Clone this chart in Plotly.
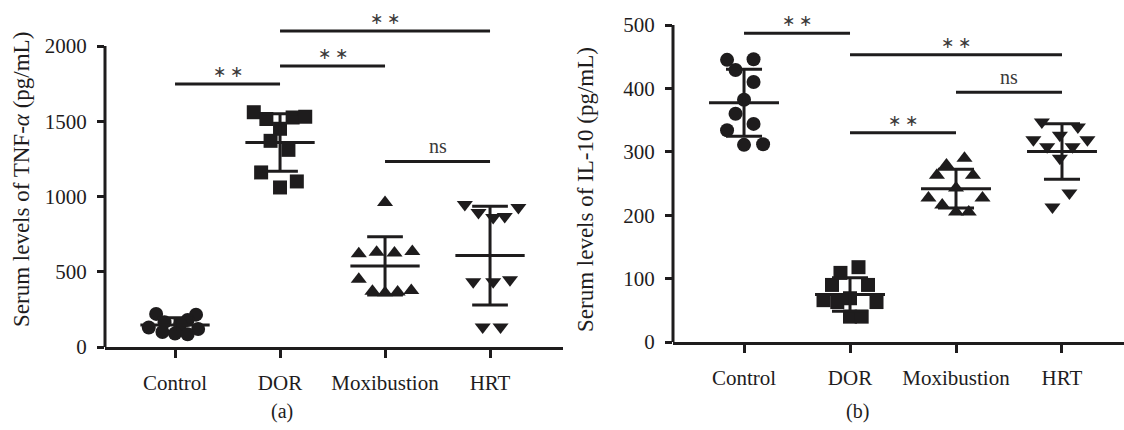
import plotly.graph_objects as go
import numpy as np

# ---------------- data ----------------
categories = ["Control", "DOR", "Moxibustion", "HRT"]

# Panel (a): serum TNF-alpha (pg/mL)
tnf_control = [220, 215, 180, 165, 150, 130, 120, 100, 90, 85]
tnf_dor = [1560, 1515, 1525, 1530, 1450, 1370, 1310, 1160, 1100, 1060]
tnf_mox = [960, 620, 630, 625, 635, 450, 370, 360, 365, 375]
tnf_hrt = [947, 893, 860, 867, 927, 433, 433, 447, 133, 133]

# Panel (b): serum IL-10 (pg/mL)
il10_control = [445, 446, 429, 410, 382, 360, 344, 334, 311, 312]
il10_dor = [118, 109, 90, 90, 66, 63, 69, 63, 40, 40]
il10_mox = [290, 279, 263, 263, 243, 227, 227, 216, 205, 205]
il10_hrt = [347, 339, 326, 319, 319, 308, 308, 290, 235, 213]

y_ticks_a = [0, 500, 1000, 1500, 2000]
y_ticks_b = [0, 100, 200, 300, 400, 500]

# significance comparisons: (group from, group to, label)
sig_a = [(0, 1, "∗ ∗"), (1, 2, "∗ ∗"), (1, 3, "∗ ∗"), (2, 3, "ns")]
sig_b = [(0, 1, "∗ ∗"), (1, 3, "∗ ∗"), (2, 3, "ns"), (1, 2, "∗ ∗")]

# ---------------- layout helpers (horizontal scatter of points, bracket heights) ----------------
jit_a = [
    [-0.18, 0.20, 0.12, -0.10, 0.05, -0.25, 0.22, -0.12, 0.0, 0.12],
    [-0.25, -0.13, 0.12, 0.24, 0.0, -0.09, 0.08, -0.18, 0.16, 0.0],
    [0.0, -0.25, -0.08, 0.09, 0.26, -0.25, -0.12, 0.0, 0.12, 0.25],
    [-0.24, -0.11, 0.03, 0.14, 0.27, -0.16, 0.03, 0.19, -0.07, 0.10],
]
jit_b = [
    [-0.16, 0.09, -0.08, 0.09, 0.0, -0.08, 0.09, -0.16, 0.0, 0.18],
    [0.08, -0.09, -0.17, 0.17, -0.25, -0.12, 0.0, 0.25, 0.0, 0.11],
    [0.08, -0.09, -0.18, 0.16, 0.0, -0.26, 0.25, -0.13, 0.0, 0.12],
    [-0.19, 0.15, -0.02, -0.27, 0.24, -0.14, 0.10, -0.02, 0.07, -0.09],
]
bracket_y_a = [1747, 1867, 2100, 1233]
bracket_y_b = [487, 453, 394, 330]

INK = "#1e1c1d"
FONT = "Liberation Serif"
symbols = ["circle", "square", "triangle-up", "triangle-down"]
sizes = [14, 14, 14, 14]

fig = go.Figure()

panels = [
    ("x", "y", [tnf_control, tnf_dor, tnf_mox, tnf_hrt], jit_a),
    ("x2", "y2", [il10_control, il10_dor, il10_mox, il10_hrt], jit_b),
]

for xa, ya, groups, jits in panels:
    for i, (vals, jit) in enumerate(zip(groups, jits)):
        fig.add_trace(go.Scatter(
            x=[i + j for j in jit], y=vals, mode="markers", xaxis=xa, yaxis=ya,
            marker=dict(symbol=symbols[i], size=sizes[i], color=INK, line=dict(width=0)),
            showlegend=False, hoverinfo="skip"))
        m = float(np.mean(vals))
        s = float(np.std(vals, ddof=1))
        lx = [i - 0.33, i + 0.33, None, i, i, None, i - 0.17, i + 0.17, None, i - 0.17, i + 0.17]
        ly = [m, m, None, m - s, m + s, None, m + s, m + s, None, m - s, m - s]
        fig.add_trace(go.Scatter(
            x=lx, y=ly, mode="lines", xaxis=xa, yaxis=ya,
            line=dict(color=INK, width=3), showlegend=False, hoverinfo="skip"))

shapes = []
annotations = []

def add_brackets(sig, heights, xref, yref):
    for (a, b, lab), h in zip(sig, heights):
        shapes.append(dict(type="line", xref=xref, yref=yref, x0=a, x1=b, y0=h, y1=h,
                           line=dict(color=INK, width=3)))
        annotations.append(dict(xref=xref, yref=yref, x=(a + b) / 2, y=h, text=lab,
                                showarrow=False, yanchor="bottom", xanchor="center", yshift=2,
                                font=dict(family=FONT, size=20 if lab == "ns" else 16,
                                          color="#3a3a3a")))

add_brackets(sig_a, bracket_y_a, "x", "y")
add_brackets(sig_b, bracket_y_b, "x2", "y2")

# y-axis lines only up to the top tick
shapes.append(dict(type="line", xref="x domain", yref="y", x0=0, x1=0, y0=0, y1=y_ticks_a[-1],
                   line=dict(color=INK, width=3)))
shapes.append(dict(type="line", xref="x2 domain", yref="y2", x0=0, x1=0, y0=0, y1=y_ticks_b[-1],
                   line=dict(color=INK, width=3)))

# axis titles and panel labels
annotations.append(dict(xref="paper", yref="paper", x=22 / 1124, y=(430 - 180) / 430,
                        xanchor="center", yanchor="middle",
                        text="Serum levels of TNF-<i>α</i> (pg/mL)", textangle=-90, showarrow=False,
                        font=dict(family=FONT, size=23, color=INK)))
annotations.append(dict(xref="paper", yref="paper", x=585 / 1124, y=(430 - 190) / 430,
                        xanchor="center", yanchor="middle",
                        text="Serum levels of IL-10 (pg/mL)", textangle=-90, showarrow=False,
                        font=dict(family=FONT, size=23, color=INK)))
annotations.append(dict(xref="paper", yref="paper", x=282 / 1124, y=(430 - 411) / 430,
                        xanchor="center", yanchor="middle",
                        text="(a)", showarrow=False, font=dict(family=FONT, size=20, color=INK)))
annotations.append(dict(xref="paper", yref="paper", x=857 / 1124, y=(430 - 411) / 430,
                        xanchor="center", yanchor="middle",
                        text="(b)", showarrow=False, font=dict(family=FONT, size=20, color=INK)))

tickfont = dict(family=FONT, size=21, color=INK)

def xaxis(domain, rng, anchor):
    return dict(domain=domain, range=rng, anchor=anchor, tickvals=[0, 1, 2, 3], ticktext=categories,
                showline=True, linewidth=3, linecolor=INK, ticks="outside", ticklen=8, tickwidth=3,
                tickcolor=INK, showgrid=False, zeroline=False, tickfont=tickfont, ticklabelstandoff=7,
                fixedrange=True, automargin=False)

def yaxis(domain, rng, anchor, tv):
    return dict(domain=domain, range=rng, anchor=anchor, tickvals=tv, showline=False, ticks="outside",
                ticklen=7, tickwidth=3, tickcolor=INK, showgrid=False, zeroline=False,
                tickfont=tickfont, ticklabelstandoff=6, fixedrange=True, automargin=False)

fig.update_layout(
    width=1124, height=430, margin=dict(l=0, r=0, t=0, b=0),
    paper_bgcolor="white", plot_bgcolor="white",
    xaxis=xaxis([105 / 1124, 563 / 1124], [-0.667, 3.695], "y"),
    yaxis=yaxis([83 / 430, 1], [0, 347 / 0.1505], "x", y_ticks_a),
    xaxis2=xaxis([673 / 1124, 1], [-0.67, 3.585], "y2"),
    yaxis2=yaxis([88 / 430, 1], [0, 342 / 0.634], "x2", y_ticks_b),
    shapes=shapes, annotations=annotations, showlegend=False,
)

fig.write_html("out.html", config={"displayModeBar": False},
               post_script="document.body.style.margin='0';")
